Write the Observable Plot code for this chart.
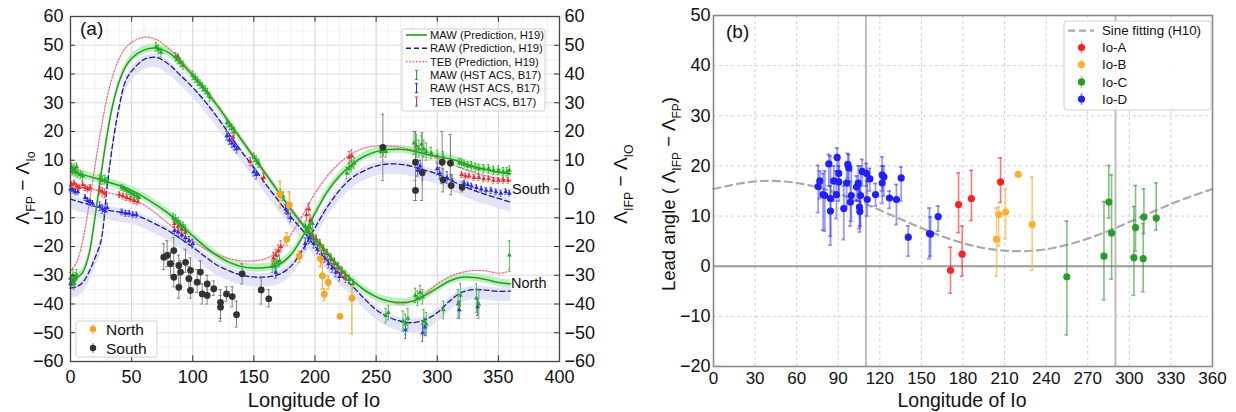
<!DOCTYPE html>
<html><head><meta charset="utf-8">
<script src="https://cdn.jsdelivr.net/npm/d3@7"></script>
<script src="https://cdn.jsdelivr.net/npm/@observablehq/plot@0.6"></script>
<style>
body{margin:0;background:#fff;width:1236px;height:412px;overflow:hidden;position:relative}
#a,#b{position:absolute;top:0;width:618px;height:412px}
#a{left:0}#b{left:618px}
svg{overflow:visible}
</style></head><body><div id="a"></div><div id="b"></div>
<script>
const FONT = '"Liberation Sans", Arial, sans-serif';

// ================= Panel (a) data =================
const lonNorth = [0,5,10,15,20,25,30,35,40,45,50,60,70,80,90,100,110,120,130,140,150,160,170,180,190,200,210,220,230,240,250,260,270,280,290,300,310,320,330,340,350,360];
const mawNorth = [-32.5,-31,-29,-23,-10,5,19,30,37.5,42.5,45.5,48.3,49,47.5,44,39.5,34.5,29,23,17,11,5,-1,-7,-12.5,-17.5,-22.5,-27.5,-31.5,-35,-37.5,-39,-39.5,-39,-37,-34.5,-32,-30.7,-30.8,-31.5,-32.5,-33];
const tebNorth = [-28.5,-25.5,-18,-6,8,21,32,40,45.5,49,51,52.8,52,49,45,39.8,34.8,29.3,23.3,17.3,11.3,5.3,-0.7,-6.5,-12,-17,-22,-27,-31.5,-35,-37.5,-39,-40,-39,-36.5,-33,-30.5,-29,-28.3,-28.5,-29.3,-28.5];
const rawNorth = [-34.5,-34,-32.5,-29,-24,-18,1,17,29,37.5,41,45,45.8,43.5,39.5,35.3,30.5,25,19,13,7.5,1.5,-4,-9.5,-14.5,-20,-25,-29.5,-33.5,-38,-42,-44.5,-46,-46.5,-45.5,-43,-39,-36,-35,-35.2,-35.6,-35.5];

const lonSouth = [0,10,20,30,40,50,60,70,80,90,100,110,120,130,140,150,160,170,180,190,200,210,220,230,240,250,260,270,280,290,300,310,320,330,340,350,360];
const mawSouth = [6,5,3.8,2.5,1.2,-0.5,-2.8,-5.5,-8.5,-12.3,-16.3,-20,-23.2,-25.5,-27,-27.5,-27.3,-26.4,-23,-16.5,-8.5,-1,4.5,8.5,11.3,13,13.7,13.8,13.2,12.2,11.4,10.5,9.3,7.8,6.8,5.8,5.3];
const tebSouth = [2,0.5,-0.3,-1.2,-2.2,-3.5,-5.5,-8.5,-12,-15.3,-18.2,-20.8,-22.8,-24.2,-25,-25,-24.2,-21.5,-16,-9,-1.5,4.5,9,12.2,14.2,15,15,14.5,13.5,12.2,10.8,9,7.2,5.7,4.6,3.6,3];
const rawSouth = [-3.5,-4.8,-6,-7.3,-8,-8.7,-10.2,-12.3,-14.5,-17.3,-20.2,-23.5,-26.5,-28.5,-30,-30.6,-30.6,-29.8,-27,-21,-13.5,-6.3,-0.5,3.8,6.3,8,8.7,8.6,7.8,6.5,5.2,3.2,1.2,-0.5,-2,-3.3,-4.6];

// HST ACS (B17) points: [longitude, value, error]
const hstMawSouth = [[1,7.5,1.5],[2,6.5,1.5],[3,7,1.5],[4,6,1.5],[5,7.8,1.2],[6,5.5,1.5],[8,5,1.5],[10,4.5,1.5],[24,3.5,1.5],[26,3,1.5],[28,3.2,1.5],[30,2.5,1.5],[42,0.5,1],[44,0,1],[46,-0.5,1],[48,-1,1],[50,-1.5,1],[52,-2,1],[54,-2.5,1],[56,-3,1],[84,-10,1.5],[86,-10.5,1.5],[88,-11.5,1.5],[90,-12.5,1.5],[92,-13,1.5],[94,-14,1.5],[165,-27,2],[167,-26.5,2],[169,-25.5,2],[171,-25,2],[194,-15,2],[196,-13.5,2],[198,-12,2],[226,5.5,2],[228,7,2],[230,8,2],[232,9,2],[254,13,2],[256,13.5,2],[258,13,2],[281,16,4],[283,15,4],[285,14,3],[287,15.5,3],[289,14,3],[291,13,3],[295,12.5,2],[300,11.5,2],[305,11,2],[318,9,1.5],[320,9,1.5],[322,8.5,1.5],[325,8,1.5],[328,8,1.5],[331,7.5,1.5],[334,7,1.5],[338,7,1.5],[342,7,1.5],[346,6.5,1.5],[350,6.5,1.5],[354,6,1.5],[357,6,1.5],[359,6.5,1.5]];
const hstMawNorth = [[0,-31,2],[1,-32,2],[2,-30,2],[3,-33,2],[4,-31,2],[5,-30,2],[70,49.5,1.5],[72,48.5,1.5],[74,47.5,1.5],[86,46,1.5],[88,45,1.5],[90,44,1.5],[92,43,1.5],[100,39.5,1.5],[102,38.5,1.5],[104,37.5,1.5],[106,36.5,1.5],[108,35.5,1.5],[110,34.5,1.5],[112,33.5,1.5],[114,32,1.5],[128,23,1.5],[130,22,1.5],[132,21,1.5],[134,20,1.5],[150,11,1.5],[152,10,1.5],[154,9,1.5],[172,-1.5,1.5],[174,-2.5,1.5],[192,-13,1.5],[195,-15,1.5],[198,-16.5,1.5],[201,-18,1.5],[204,-19.5,1.5],[207,-21,1.5],[210,-22.5,1.5],[213,-24,1.5],[216,-25.5,1.5],[219,-27,1.5],[222,-28.5,1.5],[225,-30,1.5],[228,-31.5,1.5],[231,-33,1.5],[258,-44,2.5],[260,-43,2.5],[272,-46,3.5],[274,-47,3.5],[276,-45,3.5],[282,-37,2.5],[284,-38,2.5],[286,-36,2.5],[288,-37.5,2.5],[289,-46,4],[291,-47,4],[305,-42,3],[317,-40,5],[319,-37,4],[332,-38,5],[334,-40,5],[359,-23,5]];
const hstRawSouth = [[0,0,1],[2,-0.5,1],[4,-1,1],[6,-1,1],[12,-3,1],[14,-4,1],[16,-4.5,1],[18,-5,1],[24,-6,1.5],[26,-7,1.5],[28,-7.5,1.5],[30,-6.5,1.5],[42,-8,1],[45,-8.5,1],[48,-8.5,1],[51,-9,1],[54,-9,1],[85,-14.5,1.5],[88,-15,1.5],[91,-16,1.5],[94,-17,1.5],[97,-18,1.5],[100,-19,1.5],[168,-29,2],[192,-19,2],[195,-17,2],[284,6.5,2],[286,8,2],[288,5,2],[300,7,2],[302,5.5,2],[308,4,2],[312,3,2],[322,2,1],[325,1.5,1],[328,1,1],[332,0.5,1],[336,0,1],[340,-0.5,1],[344,-0.5,1],[348,-1,1],[352,-1.5,1],[356,-1,1],[359,-1.5,1]];
const hstRawNorth = [[0,-33,1.5],[2,-32,1.5],[128,18.5,1.5],[130,17,1.5],[132,16,1.5],[134,15,1.5],[136,14,1.5],[150,6,1.5],[152,5,1.5],[176,-7,1.5],[178,-8.5,1.5],[180,-10,1.5],[196,-17,1.5],[199,-19,1.5],[202,-21,1.5],[205,-22.5,1.5],[208,-24,1.5],[211,-26,1.5],[214,-27.5,1.5],[217,-29,1.5],[220,-30.5,1.5],[274,-49,3],[288,-50,3],[290,-48,3],[318,-42,3],[333,-41,3]];
const hstTebSouth = [[1,1.5,1],[3,2,1],[5,1,1],[7,0.5,1],[10,1.5,1],[12,0.5,1],[14,0,1],[16,0.5,1],[24,-0.5,1.5],[26,-1,1.5],[28,-1.5,1.5],[40,-2,1],[43,-2.5,1],[46,-3,1],[49,-3.5,1],[52,-4,1],[55,-4.5,1],[85,-12,1.5],[88,-13,1.5],[91,-14,1.5],[94,-15,1.5],[166,-24,2],[168,-23,2],[170,-21.5,2],[172,-20,2],[193,-9,2],[195,-7,2],[196,-11,2],[228,11,2],[230,11.5,2],[320,5,1],[323,4.5,1],[326,4.5,1],[330,4,1],[334,4,1],[338,3.5,1],[342,3.5,1],[346,3,1],[350,3,1],[354,3,1],[358,3,1]];
const hstTebNorth = [[88,46,1],[133,18,1.5],[147,9.5,1.5],[158,4,1.5],[198,-16,1.5],[201,-17.5,1.5],[204,-19,1.5],[207,-21,1.5],[210,-22.5,1.5],[213,-24.5,1.5],[216,-26,1.5],[219,-27.5,1.5],[222,-29,1.5],[225,-31,1.5]];

// North / South observations: [longitude, value, low, high]
const obsNorth = [[171.4,-2.0,-6.6,2.7],[179,-5.5,-9,-1],[176.9,-17.5,-19.8,-15.2],[187.2,-23.3,-25.6,-21.6],[204.5,-24.3,-27,-21],[206,-30.2,-34.8,-25.6],[207.6,-36.6,-38.9,-34.8],[210.8,-32.5,-34.8,-30.2],[220.5,-44.3,-44.3,-44.3],[230.2,-38,-50.4,-33.7]];
const obsSouth = [[76.3,-23.7,-28,-19],[79.1,-23.1,-27,-18],[84.5,-21.4,-25,-17],[81.8,-26,-30,-22],[84.5,-30.7,-34,-26],[88.6,-26.6,-30,-23],[90,-28.9,-33,-25],[94.1,-25.5,-29,-21],[88.6,-34.2,-38,-30],[96.8,-31.2,-35,-27],[98.2,-28.3,-32,-24],[98.2,-35.3,-38,-32],[103.6,-32.4,-36,-28],[106.3,-28.9,-33,-25],[107.7,-36.5,-40,-33],[111.8,-33,-36,-30],[111.8,-37,-40,-34],[117.2,-34.7,-37,-32],[122.7,-39.4,-45,-35],[122.7,-41.1,-46,-37],[127.6,-36.5,-39,-34],[132.3,-37.4,-41,-34],[135.8,-43.7,-48,-39],[140.4,-29.5,-33,-26],[156,-35.1,-40,-31],[162.2,-38.2,-41,-35],
  [255.5,14.5,3,26],[282.2,9.3,-4,20],[282.2,-0.5,-4,3],[287.7,5.8,-4,19.5],[304,9.3,2,20],[304.8,3.2,-1,7],[310.8,9.0,1,19],[311.4,1.2,-2,5],[320.4,0.6,-1,2.5]];

const xTicksA = [0,50,100,150,200,250,300,350,400];
const yTicksA = [-60,-50,-40,-30,-20,-10,0,10,20,30,40,50,60];

// ================= Panel (b) data =================
const sineLon  = [0,30,60,90,120,150,180,210,240,270,300,330,360];
const sineLead = [15.4,16.9,16.6,14.5,11.2,7.6,4.6,3.1,3.4,5.5,8.8,12.4,15.4];
const ioA = [[171,-0.8,-5.4,3.8],[176.8,12.3,6.7,18.6],[179.4,2.4,-2.0,8.0],[186.1,13.5,9.1,19.1],[207.1,16.8,12.7,21.6]];
const ioB = [[204.2,5.4,-2.0,11.6],[205.8,10.3,4.0,11.8],[210.7,10.8,5.5,15.4],[219.8,18.3,18.0,18.6],[229.9,8.3,-0.8,17.8]];
const ioC = [[254.9,-2.1,-13.7,9.0],[281.7,2.0,-6.7,12.9],[285.2,12.8,9.6,20.1],[287.2,6.6,-2.6,18.2],[303.3,1.7,-5.8,11.9],[304.5,7.7,3.0,16.1],[310,1.5,-5.1,8.5],[310.5,9.8,6.5,15.4],[319.4,9.6,7.2,16.6]];
const ioD = [[75.5,15.9,10.7,20.1],[76.7,17.0,13.5,19],[79.1,14.3,7.2,18.5],[80.3,14.1,7.0,19.0],[83.2,20.4,16,22.3],[84.4,13.5,4.2,22],[84.4,11.0,6,16],[86.8,17.0,13,20],[89.2,21.7,19,23.6],[88.7,14.3,9.5,19],[90.4,18.5,13,22],[90.4,16.8,14,20],[94.0,11.5,5.3,16],[96.0,16.6,12,20],[96.9,20.3,17.5,22.5],[97.6,19.6,16,22.3],[98.8,12.8,8,17],[99.4,14.1,9,19],[103.2,15.8,13,18],[104.4,16.6,13,20],[105.6,10.9,6.8,15],[105.3,11.8,7.5,16],[106.1,14.1,8,20],[107.3,18.9,16,21.3],[110.4,18.5,16,20.5],[110.9,13.3,10,17],[112.8,17.4,15,19.5],[116.9,14.3,12,16.5],[121.7,18.2,15,21.8],[121.7,16.6,12.5,20],[122.9,17.8,14,20],[127.0,13.6,11.5,15],[132.0,13.3,8.3,16.3],[135.4,17.6,13,19.8],[140.5,5.8,2.0,8.0],[155.8,6.5,1.5,11.6],[156.6,6.4,2.0,9.8],[162.1,9.9,7.0,12.0]];
const xTicksB = [0,30,60,90,120,150,180,210,240,270,300,330,360];
const yTicksB = [-20,-10,0,10,20,30,40,50];

// ================= helpers =================
const curveRows = (lon, vals) => lon.map((x, i) => ({x, y: vals[i]}));
const hstRows = arr => arr.map(([x, y, e]) => ({x, y, lo: y - e, hi: y + e}));
const obsRows = arr => arr.map(([x, y, lo, hi]) => ({x, y, lo, hi}));
function errMarks(rows, color, op, w, cap) {
  return [
    Plot.ruleX(rows, {x: "x", y1: "lo", y2: "hi", stroke: color, strokeOpacity: op, strokeWidth: w}),
    Plot.ruleY(rows, {y: "lo", x1: d => d.x - cap, x2: d => d.x + cap, stroke: color, strokeOpacity: op, strokeWidth: w}),
    Plot.ruleY(rows, {y: "hi", x1: d => d.x - cap, x2: d => d.x + cap, stroke: color, strokeOpacity: op, strokeWidth: w})
  ];
}
function subText(parent, x, y, parts, size, rotate, anchor) {
  const t = parent.append("text")
    .attr("transform", `translate(${x},${y})` + (rotate ? ` rotate(${rotate})` : ""))
    .attr("text-anchor", anchor || "middle")
    .attr("font-family", FONT).attr("font-size", size).attr("fill", "#111");
  let sub = false;
  for (const [s, isSub] of parts) {
    const ts = t.append("tspan").text(s);
    if (isSub && !sub) ts.attr("dy", size * 0.3);
    if (!isSub && sub) ts.attr("dy", -size * 0.3);
    if (isSub) ts.attr("font-size", size * 0.65);
    sub = isSub;
  }
  return t;
}
function label(parent, x, y, s, size, anchor, color) {
  return parent.append("text").attr("x", x).attr("y", y).text(s)
    .attr("font-family", FONT).attr("font-size", size)
    .attr("text-anchor", anchor || "start").attr("fill", color || "#111");
}

// ================= Panel (a) =================
const cMAW = "#1f9f1f", cRAW = "#1c1c8a", cTEB = "#e8708a";
const hMAW = "#22aa22", hRAW = "#2a2aee", hTEB = "#ee2a2a";
const cNorth = "#f5a623";

const mawN = curveRows(lonNorth, mawNorth), tebN = curveRows(lonNorth, tebNorth), rawN = curveRows(lonNorth, rawNorth);
const mawS = curveRows(lonSouth, mawSouth), tebS = curveRows(lonSouth, tebSouth), rawS = curveRows(lonSouth, rawSouth);

const hstSets = [
  [hstRows(hstRawSouth), hRAW], [hstRows(hstRawNorth), hRAW],
  [hstRows(hstTebSouth), hTEB], [hstRows(hstTebNorth), hTEB],
  [hstRows(hstMawSouth), hMAW], [hstRows(hstMawNorth), hMAW]
];

const CR = "catmull-rom";
const A = Plot.plot({
  width: 618, height: 412,
  marginLeft: 70, marginRight: 59, marginTop: 16, marginBottom: 51,
  style: {fontFamily: FONT, fontSize: "18px", overflow: "visible", color: "#111", background: "transparent"},
  x: {domain: [0, 400]},
  y: {domain: [-60, 60]},
  marks: [
    Plot.ruleX(d3.range(0, 401, 10), {stroke: "#ececec", strokeWidth: 0.8}),
    Plot.ruleY(d3.range(-60, 61, 5), {stroke: "#ececec", strokeWidth: 0.8}),
    Plot.ruleX(xTicksA, {stroke: "#d6d6d6", strokeWidth: 0.9}),
    Plot.ruleY(yTicksA, {stroke: "#dedede", strokeWidth: 0.9}),
    // uncertainty bands
    Plot.areaY(rawS, {x: "x", y1: d => d.y - 3.5, y2: d => d.y + 1.2, fill: "#e2e2f8", curve: CR}),
    Plot.areaY(rawN, {x: "x", y1: d => d.y - 3.5, y2: d => d.y + 1.2, fill: "#e2e2f8", curve: CR}),
    Plot.areaY(mawS, {x: "x", y1: d => d.y - 1.4, y2: d => d.y + 1.4, fill: "#bdeebd", curve: CR}),
    Plot.areaY(mawN, {x: "x", y1: d => d.y - 1.4, y2: d => d.y + 1.4, fill: "#bdeebd", curve: CR}),
    // prediction curves
    Plot.line(rawS, {x: "x", y: "y", stroke: cRAW, strokeWidth: 1.3, strokeDasharray: "5,3", curve: CR}),
    Plot.line(rawN, {x: "x", y: "y", stroke: cRAW, strokeWidth: 1.3, strokeDasharray: "5,3", curve: CR}),
    Plot.line(tebS, {x: "x", y: "y", stroke: cTEB, strokeWidth: 1.3, strokeDasharray: "1.5,1.8", curve: CR}),
    Plot.line(tebN, {x: "x", y: "y", stroke: cTEB, strokeWidth: 1.3, strokeDasharray: "1.5,1.8", curve: CR}),
    Plot.line(mawS, {x: "x", y: "y", stroke: cMAW, strokeWidth: 1.5, curve: CR}),
    Plot.line(mawN, {x: "x", y: "y", stroke: cMAW, strokeWidth: 1.5, curve: CR}),
    // HST points
    ...hstSets.flatMap(([rows, col]) => [
      ...errMarks(rows, col, 0.85, 0.9, 0.9),
      Plot.dot(rows, {x: "x", y: "y", r: 1.8, fill: col, symbol: "triangle"})
    ]),
    // North / South observations
    ...errMarks(obsRows(obsSouth), "#777", 0.9, 1, 1.3),
    Plot.dot(obsRows(obsSouth), {x: "x", y: "y", r: 3.4, fill: "#333"}),
    ...errMarks(obsRows(obsNorth), cNorth, 0.9, 1.2, 1.3),
    Plot.dot(obsRows(obsNorth), {x: "x", y: "y", r: 3.4, fill: cNorth}),
    // inward ticks
    Plot.ruleY(yTicksA, {x1: 0, x2: 4, stroke: "#333"}),
    Plot.ruleY(yTicksA, {x1: 396, x2: 400, stroke: "#333"}),
    Plot.ruleX(xTicksA, {y1: -60, y2: -58, stroke: "#333"}),
    Plot.ruleX(xTicksA, {y1: 58, y2: 60, stroke: "#333"}),
    Plot.frame({stroke: "#444", strokeWidth: 1.3}),
    Plot.axisX({ticks: xTicksA, anchor: "bottom", tickSize: 0, tickPadding: 9, label: null}),
    Plot.axisY({ticks: yTicksA, anchor: "left", tickSize: 0, tickPadding: 7, label: null}),
    Plot.axisY({ticks: yTicksA, anchor: "right", tickSize: 0, tickPadding: 5, label: null})
  ]
});
document.getElementById("a").append(A);
{
  const s = d3.select(A);
  label(s, 314, 407, "Longitude of Io", 20, "middle");
  subText(s, 29, 188, [["Λ", false], ["FP", true], [" − Λ", false], ["Io", true]], 19, -90);
  subText(s, 627, 184, [["Λ", false], ["IFP", true], [" − Λ", false], ["IO", true]], 19, -90);
  label(s, 80, 35, "(a)", 19);
  label(s, 512, 194, "South", 14.5);
  label(s, 511, 288, "North", 14.5);
  // legend (upper right)
  s.append("rect").attr("x", 402).attr("y", 29).attr("width", 143).attr("height", 82).attr("rx", 2)
    .attr("fill", "white").attr("fill-opacity", 0.92).attr("stroke", "#cfcfcf");
  const rows = [
    ["MAW (Prediction, H19)", "line", cMAW, null],
    ["RAW (Prediction, H19)", "line", cRAW, "5,3"],
    ["TEB (Prediction, H19)", "line", cTEB, "1.5,1.8"],
    ["MAW (HST ACS, B17)", "err", hMAW],
    ["RAW (HST ACS, B17)", "err", hRAW],
    ["TEB (HST ACS, B17)", "err", hTEB]
  ];
  rows.forEach(([t, kind, col, dash], i) => {
    const y = 35 + i * 13.3;
    if (kind === "line") {
      const l = s.append("line").attr("x1", 406).attr("x2", 427).attr("y1", y).attr("y2", y)
        .attr("stroke", col).attr("stroke-width", 1.6);
      if (dash) l.attr("stroke-dasharray", dash);
    } else {
      s.append("line").attr("x1", 416.5).attr("x2", 416.5).attr("y1", y - 4.5).attr("y2", y + 4.5).attr("stroke", col).attr("stroke-width", 1);
      s.append("line").attr("x1", 415).attr("x2", 418).attr("y1", y - 4.5).attr("y2", y - 4.5).attr("stroke", col);
      s.append("line").attr("x1", 415).attr("x2", 418).attr("y1", y + 4.5).attr("y2", y + 4.5).attr("stroke", col);
    }
    label(s, 430, y + 4, t, 11.2);
  });
  // legend (lower left)
  s.append("rect").attr("x", 76).attr("y", 321).attr("width", 81).attr("height", 36).attr("rx", 2)
    .attr("fill", "white").attr("fill-opacity", 0.92).attr("stroke", "#d0d0d0");
  [["North", cNorth, cNorth], ["South", "#333", "#777"]].forEach(([t, col, ecol], i) => {
    const y = 329 + i * 19;
    s.append("line").attr("x1", 93).attr("x2", 93).attr("y1", y - 5).attr("y2", y + 5).attr("stroke", ecol).attr("stroke-width", 1);
    s.append("circle").attr("cx", 93).attr("cy", y).attr("r", 3.2).attr("fill", col);
    label(s, 106, y + 5.5, t, 15.5);
  });
}

// ================= Panel (b) =================
const colA = "#ff2020", colB = "#ffb030", colC = "#2a9a2a", colD = "#2020ff";
const sine = curveRows(sineLon, sineLead);
const B = Plot.plot({
  width: 618, height: 412,
  marginLeft: 95, marginRight: 24, marginTop: 15, marginBottom: 46,
  style: {fontFamily: FONT, fontSize: "18px", overflow: "visible", color: "#111", background: "transparent"},
  x: {domain: [0, 360]},
  y: {domain: [-20, 50]},
  marks: [
    Plot.ruleX(xTicksB, {stroke: "#cfcfcf", strokeDasharray: "3,3"}),
    Plot.ruleY(yTicksB, {stroke: "#cfcfcf", strokeDasharray: "3,3"}),
    Plot.ruleX([110, 290], {stroke: "#bdbdbd", strokeWidth: 2}),
    Plot.ruleY([0], {stroke: "#9a9a9a", strokeWidth: 2}),
    Plot.line(sine, {x: "x", y: "y", stroke: "#aaaaaa", strokeWidth: 2.2, strokeDasharray: "7,5", curve: "natural"}),
    ...errMarks(obsRows(ioD), colD, 0.45, 1.8, 1.4),
    Plot.dot(obsRows(ioD), {x: "x", y: "y", r: 3.6, fill: colD}),
    ...errMarks(obsRows(ioA), colA, 0.6, 1.6, 1.4),
    Plot.dot(obsRows(ioA), {x: "x", y: "y", r: 3.6, fill: colA}),
    ...errMarks(obsRows(ioB), colB, 0.65, 1.6, 1.4),
    Plot.dot(obsRows(ioB), {x: "x", y: "y", r: 3.6, fill: colB}),
    ...errMarks(obsRows(ioC), colC, 0.6, 1.6, 1.4),
    Plot.dot(obsRows(ioC), {x: "x", y: "y", r: 3.6, fill: colC}),
    Plot.frame({stroke: "#8a8a8a", strokeWidth: 1.6}),
    Plot.axisX({ticks: xTicksB, anchor: "bottom", tickSize: 0, tickPadding: 5, fontSize: 17, label: null}),
    Plot.axisY({ticks: yTicksB, anchor: "left", tickSize: 0, tickPadding: 3, label: null})
  ]
});
document.getElementById("b").append(B);
{
  const s = d3.select(B);
  label(s, 344, 407, "Longitude of Io", 19.5, "middle");
  subText(s, 57, 194, [["Lead angle ( Λ", false], ["IFP", true], [" − Λ", false], ["FP", true], [")", false]], 18.5, -90);
  label(s, 108, 38, "(b)", 19);
  s.append("rect").attr("x", 446).attr("y", 21).attr("width", 147).attr("height", 89).attr("rx", 3)
    .attr("fill", "white").attr("fill-opacity", 0.92).attr("stroke", "#d0d0d0");
  s.append("line").attr("x1", 450).attr("x2", 476).attr("y1", 30.6).attr("y2", 30.6)
    .attr("stroke", "#aaaaaa").attr("stroke-width", 2.2).attr("stroke-dasharray", "7,4");
  label(s, 484, 35.3, "Sine fitting (H10)", 13.3);
  [["Io-A", colA], ["Io-B", colB], ["Io-C", colC], ["Io-D", colD]].forEach(([t, col], i) => {
    const y = 47.5 + i * 17.2;
    s.append("line").attr("x1", 463.5).attr("x2", 463.5).attr("y1", y - 6).attr("y2", y + 6).attr("stroke", col).attr("stroke-opacity", 0.5).attr("stroke-width", 1.5);
    s.append("circle").attr("cx", 463.5).attr("cy", y).attr("r", 3.6).attr("fill", col);
    label(s, 484, y + 4.7, t, 13.3);
  });
}
</script></body></html>
